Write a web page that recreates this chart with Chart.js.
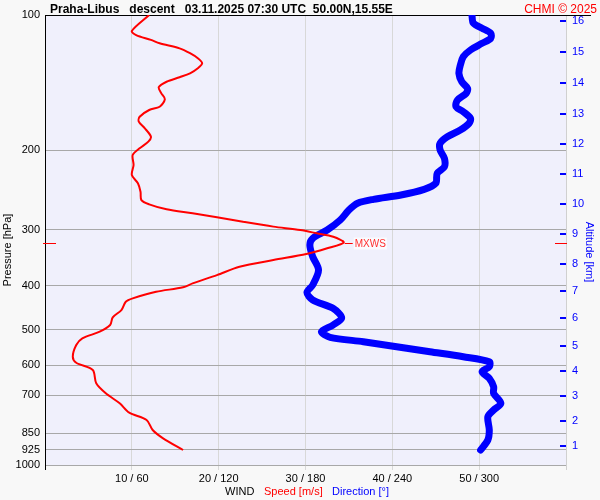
<!DOCTYPE html>
<html lang="en">
<head>
<meta charset="UTF-8">
<title>Praha-Libus wind profile</title>
<script src="https://cdn.jsdelivr.net/npm/chart.js@4.4.1/dist/chart.umd.min.js"></script>
<style>
  html, body { margin: 0; padding: 0; background: #f8f8f8; }
  #wrap { width: 600px; height: 500px; }
</style>
</head>
<body>
<div id="wrap"><canvas id="wind" width="600" height="500"></canvas></div>
<script>
const FONT = '"Liberation Sans", Arial, sans-serif';

// wind speed profile [m/s] vs pressure [hPa]
const speedP = [100, 108.5, 110.8, 113.6, 115.6, 118.6, 121.6, 124.8, 128.0, 131.3, 134.8, 137.5,
  140.7, 144.7, 149.3, 153.9, 159.9, 162.6, 168.3, 172.6, 178.6, 186.4, 191.2, 197.8, 204.7,
  215.4, 226.7, 236.6, 247.0, 257.8, 263.5, 270.3, 275.9, 281.6, 288.1, 295.3, 300.5, 305.6,
  311.0, 320.3, 329.9, 339.8, 350.4, 362.6, 378.4, 394.8, 402.9, 412.1, 426.3, 433.7, 452.5,
  469.7, 488.6, 505.6, 523.0, 541.3, 574.6, 592.6, 615.2, 658.3, 692.9, 729.3, 765.3, 794.3,
  836.0, 872.4, 926.1];
const speedMs = [12.0, 10.0, 10.5, 12.2, 13.2, 15.5, 16.7, 17.6, 18.1, 17.6, 16.7, 15.5,
  14.0, 13.1, 13.4, 13.8, 13.2, 12.0, 10.9, 10.8, 11.5, 12.2, 11.9, 10.9, 10.1,
  10.2, 10.0, 10.7, 11.0, 11.1, 12.0, 14.0, 17.0, 19.8, 22.8, 26.3, 29.4, 31.3,
  33.2, 34.4, 32.5, 30.1, 26.3, 22.4, 19.8, 17.0, 15.9, 12.8, 10.1, 9.3, 8.8,
  7.8, 7.5, 6.3, 4.3, 3.6, 3.2, 3.6, 5.5, 5.9, 7.0, 8.6, 9.7, 11.7,
  12.4, 13.6, 15.9];

// wind direction profile [deg] vs pressure [hPa]
const dirP = [100, 104.3, 107.0, 109.8, 112.7, 115.6, 119.6, 123.8, 129.2, 134.8, 140.7, 145.6,
  149.3, 154.5, 159.9, 164.0, 169.7, 174.1, 180.2, 186.4, 192.8, 199.5, 208.2, 217.3, 224.8,
  236.6, 244.0, 251.2, 256.8, 262.0, 271.3, 285.5, 300.5, 313.5, 324.4, 344.5, 368.8, 398.1,
  413.7, 429.9, 448.6, 471.4, 488.6, 505.6, 520.3, 532.1, 545.9, 560.1, 574.6, 589.5, 604.7,
  620.4, 641.8, 669.9, 692.9, 729.3, 754.7, 781.0, 836.0, 879.9, 926.1];
const dirDeg = [295, 296, 302, 308, 308, 302, 294, 289, 287, 286, 288, 292,
  291, 285, 284, 289, 294, 293, 287, 278, 273, 273, 276, 276, 271,
  270, 262, 246, 227, 216, 210, 204, 195, 185, 183, 185, 189, 185,
  181, 185, 199, 205, 199, 191, 197, 220, 243, 266, 289, 307, 307,
  302, 307, 310, 310, 315, 310, 306, 307, 306, 301];

const pressureTicks = [100, 200, 300, 400, 500, 600, 700, 850, 925, 1000];
const speedTicks = [10, 20, 30, 40, 50];
const dirTicks = [60, 120, 180, 240, 300];
const altKm = [1, 2, 3, 4, 5, 6, 7, 8, 9, 10, 11, 12, 13, 14, 15, 16];
const altP = [907.6, 798.6, 702.5, 618.2, 543.8, 471.4, 410.6, 357.5, 306.7, 263.0, 225.6,
  193.5, 166.0, 141.6, 120.9, 103.1];

Chart.defaults.font.family = FONT;
Chart.defaults.font.size = 11;
Chart.defaults.color = '#000';

const setTicks = arr => s => { s.ticks = arr.map(v => ({ value: v })); };

const frame = {
  id: 'frame',
  beforeDraw(chart) {
    const { ctx, chartArea: a } = chart;
    ctx.save();
    ctx.fillStyle = '#f8f8f8';
    ctx.fillRect(0, 0, chart.width, chart.height);
    ctx.fillStyle = '#f0f0fc';
    ctx.fillRect(a.left, a.top, a.right - a.left, a.bottom - a.top);
    ctx.restore();
  },
  beforeDatasetsDraw(chart) {
    const { ctx, chartArea: a } = chart;
    ctx.save();
    ctx.strokeStyle = '#000';
    ctx.lineWidth = 1;
    ctx.beginPath();
    ctx.moveTo(a.left, a.top + 0.5);
    ctx.lineTo(591, a.top + 0.5);
    ctx.moveTo(a.left + 0.5, a.top);
    ctx.lineTo(a.left + 0.5, a.bottom + 5);
    ctx.stroke();
    ctx.strokeStyle = '#d0d0d0';
    ctx.beginPath();
    ctx.moveTo(a.right + 0.5, a.top + 1);
    ctx.lineTo(a.right + 0.5, a.bottom + 5);
    ctx.stroke();
    ctx.restore();
  },
  afterDraw(chart) {
    const { ctx, chartArea: a, scales } = chart;
    const y = scales.y, x = scales.x;
    ctx.save();

    // altitude tick marks
    ctx.strokeStyle = '#0000ff';
    ctx.lineWidth = 2;
    altP.forEach(p => {
      const py = Math.round(y.getPixelForValue(p));
      ctx.beginPath();
      ctx.moveTo(a.right - 6, py);
      ctx.lineTo(a.right, py);
      ctx.stroke();
    });

    // max wind marker
    let im = 0;
    speedMs.forEach((v, i) => { if (v > speedMs[im]) im = i; });
    const my = Math.round(y.getPixelForValue(speedP[im])) + 0.5;
    const mx = x.getPixelForValue(speedMs[im]);
    ctx.strokeStyle = '#ff0000';
    ctx.lineWidth = 1;
    ctx.beginPath();
    ctx.moveTo(a.left - 2, my); ctx.lineTo(a.left + 11, my);
    ctx.moveTo(a.right - 11, my); ctx.lineTo(a.right + 1, my);
    ctx.moveTo(mx + 1, my); ctx.lineTo(mx + 9, my);
    ctx.stroke();
    ctx.font = '10px ' + FONT;
    ctx.textBaseline = 'middle';
    const w = ctx.measureText('MXWS').width;
    ctx.fillStyle = 'rgba(255,255,255,0.7)';
    ctx.fillRect(mx + 10, my - 6, w + 2, 12);
    ctx.fillStyle = '#ff3030';
    ctx.fillText('MXWS', mx + 11, my + 1);

    // title
    ctx.textBaseline = 'alphabetic';
    ctx.font = 'bold 12px ' + FONT;
    ctx.fillStyle = '#000';
    ctx.textAlign = 'left';
    ctx.fillText('Praha-Libus   descent   03.11.2025 07:30 UTC  50.00N,15.55E', 50, 13);
    ctx.font = '12px ' + FONT;
    ctx.fillStyle = '#ff0000';
    ctx.textAlign = 'right';
    ctx.fillText('CHMI \u00a9 2025', 597, 13);

    // bottom legend line
    ctx.font = '11px ' + FONT;
    ctx.textAlign = 'left';
    ctx.textBaseline = 'middle';
    ctx.fillStyle = '#000';
    ctx.fillText('WIND', 225, 492);
    ctx.fillStyle = '#ff0000';
    ctx.fillText('Speed [m/s]', 264, 492);
    ctx.fillStyle = '#0000ff';
    ctx.fillText('Direction [\u00b0]', 332, 492);

    // axis titles
    ctx.textAlign = 'center';
    ctx.save();
    ctx.translate(8, 250);
    ctx.rotate(-Math.PI / 2);
    ctx.fillStyle = '#000';
    ctx.fillText('Pressure [hPa]', 0, 0);
    ctx.restore();
    ctx.save();
    ctx.translate(589, 252);
    ctx.rotate(Math.PI / 2);
    ctx.fillStyle = '#0000ff';
    ctx.fillText('Altitude [km]', 0, 0);
    ctx.restore();

    ctx.restore();
  }
};

new Chart(document.getElementById('wind'), {
  type: 'line',
  plugins: [frame],
  data: {
    datasets: [
      {
        label: 'Speed [m/s]',
        data: speedMs.map((v, i) => ({ x: v, y: speedP[i] })),
        xAxisID: 'x', yAxisID: 'y',
        borderColor: '#ff0000', borderWidth: 2,
        pointRadius: 0, tension: 0.3, fill: false, order: 1
      },
      {
        label: 'Direction [\u00b0]',
        data: dirDeg.map((v, i) => ({ x: v, y: dirP[i] })),
        xAxisID: 'xd', yAxisID: 'y',
        borderColor: '#0000ff', borderWidth: 7,
        borderCapStyle: 'round', borderJoinStyle: 'round',
        pointRadius: 0, tension: 0.3, fill: false, order: 2
      }
    ]
  },
  options: {
    responsive: false,
    animation: false,
    layout: { padding: { top: 15, left: 0, right: 0, bottom: 0 } },
    plugins: { legend: { display: false }, tooltip: { enabled: false }, title: { display: false } },
    scales: {
      x: {
        type: 'linear', position: 'bottom', min: 0, max: 60,
        afterBuildTicks: setTicks(speedTicks),
        afterFit: s => { s.height = 35; },
        grid: { color: '#d8d8d8', tickColor: '#d8d8d8', tickLength: 5 },
        border: { display: false },
        ticks: {
          padding: 2, maxRotation: 0, autoSkip: false, color: '#000',
          callback: (v, i) => speedTicks[i] + ' / ' + dirTicks[i]
        }
      },
      xd: { type: 'linear', min: 0, max: 360, display: false },
      y: {
        type: 'logarithmic', position: 'left', reverse: true, min: 100, max: 1000,
        afterBuildTicks: setTicks(pressureTicks),
        afterFit: s => { s.width = 45; },
        grid: { color: '#a8a8a8', drawTicks: false },
        border: { display: false },
        ticks: { padding: 5, autoSkip: false, color: '#000', callback: v => String(v) }
      },
      y2: {
        type: 'logarithmic', position: 'right', reverse: true, min: 100, max: 1000,
        afterBuildTicks: setTicks(altP),
        afterFit: s => { s.width = 34; },
        grid: { drawOnChartArea: false, drawTicks: false },
        border: { display: false },
        ticks: { padding: 6, autoSkip: false, color: '#0000ff', callback: (v, i) => String(altKm[i]) }
      }
    }
  }
});
</script>
</body>
</html>
